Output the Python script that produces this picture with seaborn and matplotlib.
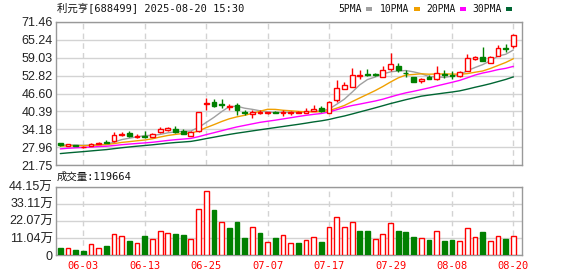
import numpy as np
import pandas as pd
import matplotlib
matplotlib.use("Agg")
import matplotlib.pyplot as plt
import seaborn as sns
from matplotlib.patches import Rectangle

# ---------------- data ----------------
title = "利元亨[688499] 2025-08-20 15:30"
vol_title = "成交量:119664"
ma_names = ["5PMA", "10PMA", "20PMA", "30PMA"]
ma_windows = [5, 10, 20, 30]
ma_colors = ["#a0a0a0", "#f0a000", "#ff00ff", "#006633"]

holidays = ["2025-06-02"]
dates = [d.strftime("%m-%d") for d in pd.bdate_range("2025-05-28", "2025-08-20")
         if d.strftime("%Y-%m-%d") not in holidays]

# closes before the visible window (only needed for the moving averages)
prior_close = [21.4, 21.7, 21.6, 22.0, 22.4, 22.7, 22.5, 23.0, 23.4, 23.8,
               24.5, 25.2, 25.8, 26.1, 26.5, 26.9, 27.2, 26.8, 27.3, 27.6,
               27.8, 28.1, 27.9, 28.2, 28.0,
               28.3, 28.6, 28.4, 29.0]

open_ = [29.3, 28.5, 28.6, 28.0, 28.3, 29.1, 29.8, 30.0, 32.2, 33.0,
         31.4, 31.9, 31.6, 33.2, 34.0, 34.4, 33.4, 31.9, 33.4, 42.8,
         43.5, 42.8, 41.8, 42.5, 40.1, 39.5, 39.9, 39.7, 40.2, 39.8,
         40.0, 40.0, 40.0, 40.6, 41.6, 40.0, 44.3, 48.1, 48.9, 52.8,
         53.4, 53.4, 52.4, 55.1, 56.3, 53.9, 52.3, 50.9, 52.4, 51.5,
         53.4, 53.0, 52.6, 54.6, 58.7, 59.4, 57.3, 59.6, 62.4, 63.0]
high = [29.4, 29.0, 28.7, 28.2, 29.4, 29.6, 30.3, 33.1, 33.2, 33.5,
        32.7, 33.4, 33.0, 35.1, 35.0, 35.4, 34.1, 33.4, 40.3, 44.9,
        44.6, 44.6, 42.9, 43.2, 40.9, 40.7, 40.9, 40.3, 40.4, 40.9,
        40.5, 40.6, 41.5, 42.6, 42.1, 44.1, 51.2, 50.7, 55.6, 54.7,
        55.0, 53.6, 56.1, 60.6, 57.2, 54.9, 52.4, 51.9, 52.9, 56.1,
        54.7, 54.6, 54.4, 60.4, 59.8, 62.9, 59.5, 63.5, 63.8, 67.4]
low = [28.5, 28.4, 28.2, 27.8, 28.2, 29.0, 29.3, 29.9, 32.0, 31.4,
       31.3, 31.1, 31.5, 32.8, 33.7, 32.8, 32.4, 31.8, 33.3, 40.9,
       42.0, 41.5, 41.0, 39.2, 39.3, 38.1, 39.4, 39.6, 39.7, 38.9,
       39.3, 39.7, 39.9, 40.5, 40.3, 39.9, 43.8, 48.0, 48.8, 51.5,
       52.7, 52.7, 52.3, 54.4, 54.2, 52.4, 50.6, 50.4, 51.5, 51.4,
       52.0, 51.8, 52.5, 54.5, 58.2, 57.9, 57.2, 59.5, 60.9, 62.5]
close = [28.8, 28.9, 28.3, 28.1, 29.2, 29.5, 29.4, 32.3, 32.5, 31.7,
         31.8, 31.6, 32.6, 34.2, 34.5, 33.3, 32.6, 33.3, 40.3, 43.2,
         42.1, 42.5, 42.1, 41.0, 39.8, 40.1, 40.0, 40.1, 39.9, 40.2,
         40.3, 40.2, 40.6, 41.1, 40.4, 43.7, 48.6, 49.5, 53.2, 53.1,
         52.9, 53.0, 54.9, 56.7, 54.7, 53.6, 50.7, 51.8, 51.7, 53.9,
         53.0, 52.7, 54.1, 59.0, 59.4, 58.0, 59.4, 62.3, 62.1, 66.9]
volume_wan = [4.5, 4.3, 3.2, 2.8, 6.9, 4.3, 5.8, 13.6, 12.1, 9.0,
              7.5, 12.3, 10.1, 15.5, 14.0, 13.6, 12.9, 10.1, 29.5, 41.2,
              29.1, 21.3, 17.5, 21.3, 11.0, 17.9, 14.2, 8.4, 11.0, 12.7,
              7.5, 7.8, 9.5, 11.4, 8.4, 17.9, 24.4, 17.9, 21.3, 15.5,
              15.5, 10.1, 13.6, 20.7, 15.5, 14.9, 11.6, 10.8, 9.7, 15.5,
              9.0, 9.7, 9.0, 17.2, 11.6, 14.9, 9.0, 12.1, 10.3, 11.97]

price_ticks = [21.75, 27.96, 34.18, 40.39, 46.60, 52.82, 59.03, 65.24, 71.46]
vol_ticks = [0, 11.04, 22.07, 33.11, 44.15]
vol_tick_labels = ["0", "11.04万", "22.07万", "33.11万", "44.15万"]

# ---------------- style ----------------
sns.set_style("white")
plt.rcParams["font.family"] = ["Liberation Sans", "Noto Sans CJK SC"]

RED = "#ff0000"
GREEN = "#008000"
GRID = "#d3d3d3"
SPINE = "#999999"
mono_cjk = ["DejaVu Sans Mono", "Noto Sans CJK SC"]

W, H = 578, 276
fig = plt.figure(figsize=(W / 100, H / 100), dpi=100)


def axrect(l, t, r, b):
    return [l / W, 1 - b / H, (r - l) / W, (b - t) / H]


ax = fig.add_axes(axrect(55.7, 22, 522.3, 165))
axv = fig.add_axes(axrect(55.7, 186.7, 522.3, 255))

o = np.array(open_)
c = np.array(close)
h = np.array(high)
l = np.array(low)
v = np.array(volume_wan)
n = len(c)
x = np.arange(n)
up = c >= o
prev_close = np.concatenate([[prior_close[-1]], c[:-1]])
vol_up = c >= prev_close

tick_idx = [i for i in range(3, n, 8)]
tick_lab = [dates[i] for i in tick_idx]

for a in (ax, axv):
    a.set_xlim(-0.6, 60.16)
    a.set_xticks(tick_idx)
    a.xaxis.grid(True, color=GRID, lw=1, ls=(0, (4, 3)))
    a.yaxis.grid(True, color=GRID, lw=1)
    a.set_axisbelow(True)
    for s in a.spines.values():
        s.set_color(SPINE)
        s.set_linewidth(1)
    a.tick_params(axis="both", length=0)

# moving averages
full = pd.Series(list(prior_close) + list(close))
for name, w, col in zip(ma_names, ma_windows, ma_colors):
    ma = full.rolling(w).mean().to_numpy()[-n:]
    sns.lineplot(x=x, y=ma, ax=ax, color=col, lw=1, legend=False, zorder=2)

# candles
ax.vlines(x, l, h, colors=np.where(up, RED, GREEN), lw=1, zorder=3)
body_lo = np.minimum(o, c)
body_h = np.maximum(np.abs(c - o), 0.12)
ax.bar(x, body_h, bottom=body_lo, width=0.62,
       color=np.where(up, "white", GREEN), edgecolor=np.where(up, RED, GREEN),
       linewidth=1, zorder=4)

ax.set_ylim(price_ticks[0], price_ticks[-1])
ax.set_yticks(price_ticks)
ax.set_yticklabels([f"{t:.2f}" for t in price_ticks], fontsize=9, color="#222222")
ax.tick_params(axis="y", pad=2)
ax.set_xticklabels([])

# volume
axv.bar(x, v, width=0.62, color=np.where(vol_up, "white", GREEN),
        edgecolor=np.where(vol_up, RED, GREEN), linewidth=1, zorder=3)
axv.set_ylim(vol_ticks[0], vol_ticks[-1])
axv.set_yticks(vol_ticks)
axv.set_yticklabels(vol_tick_labels, fontsize=9, color="#222222",
                    family=["Liberation Sans", "Noto Sans CJK SC"])
axv.tick_params(axis="y", pad=2)
axv.set_xticklabels(tick_lab, color=RED, fontsize=7.5, family="DejaVu Sans Mono")
axv.tick_params(axis="x", pad=4)
ax.set_xlabel("")
axv.set_xlabel("")

# titles
fig.text(57 / W, 1 - 8.5 / H, title, ha="left", va="center", fontsize=7.5,
         family=mono_cjk, color="#111111")
fig.text(57 / W, 1 - 177 / H, vol_title, ha="left", va="center", fontsize=7.5,
         family=mono_cjk, color="#111111")

# legend
leg_x = [338, 380, 426, 472]
for name, col, lx in zip(ma_names, ma_colors, leg_x):
    t = fig.text(lx / W, 1 - 8.5 / H, name, ha="left", va="center", fontsize=7,
                 family="DejaVu Sans Mono", color="#111111")
    tw = len(name) * 5.9
    fig.patches.append(Rectangle(((lx + tw + 4) / W, 1 - 10.5 / H), 6 / W, 4 / H,
                                 transform=fig.transFigure, color=col, lw=0))

fig.savefig("out.png", dpi=100)
